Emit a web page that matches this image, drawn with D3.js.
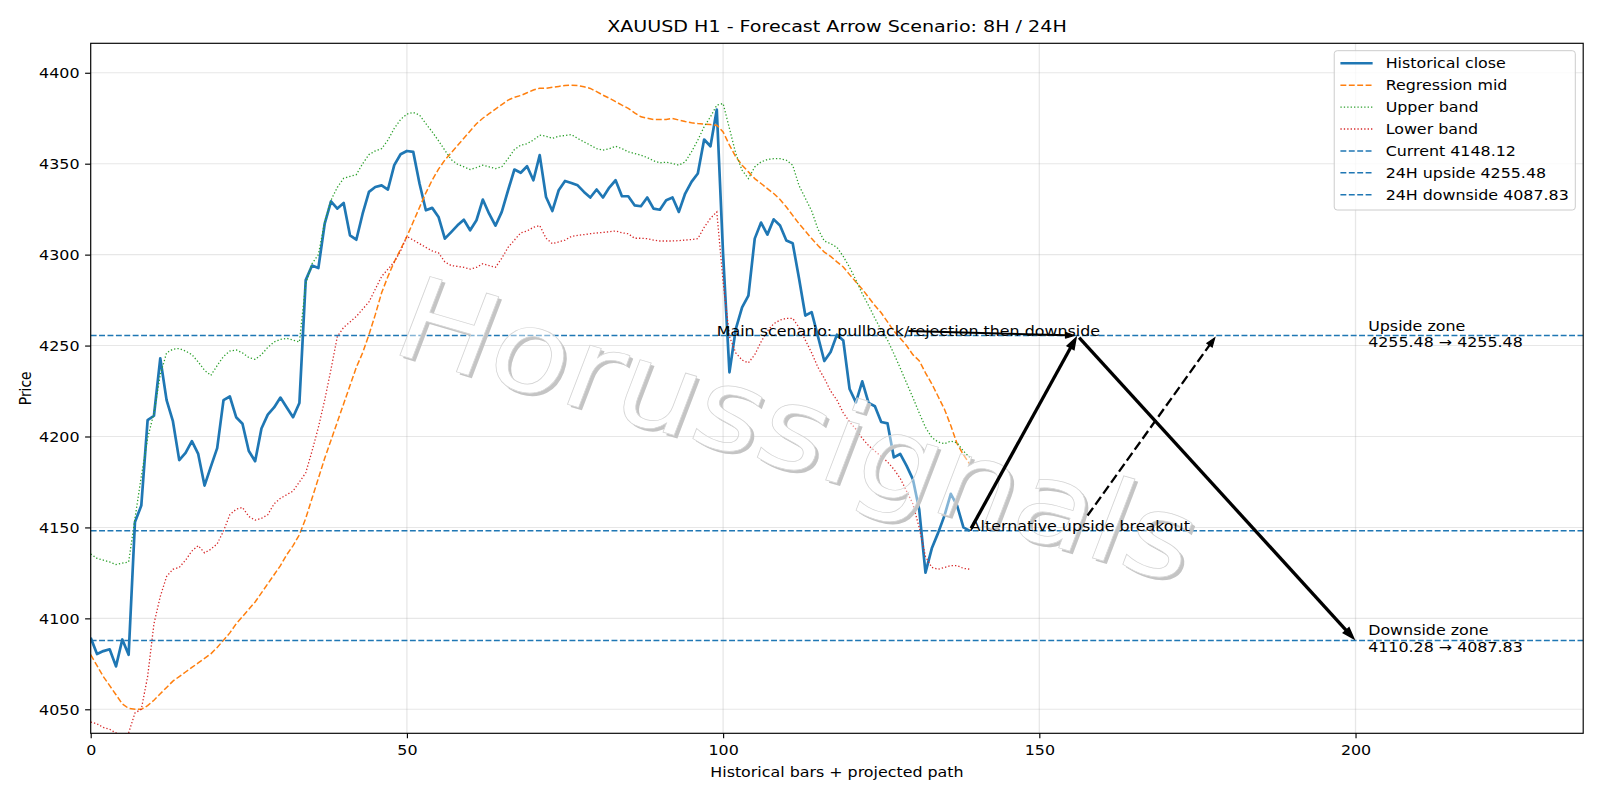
<!DOCTYPE html>
<html>
<head>
<meta charset="utf-8">
<script src="https://cdn.jsdelivr.net/npm/d3@7"></script>
<style>
  body { margin: 0; background: #fff; }
  svg { font-family: "DejaVu Sans", sans-serif; }
</style>
</head>
<body>
<div id="chart"></div>
<script>
// values (one value per hourly bar, 0..139)
const closeSeries = [
  4089.3, 4080.4, 4082, 4083, 4073.6, 4088.4, 4080, 4153, 4162, 4209,
  4211.4, 4243, 4220, 4208.4, 4187, 4191, 4197.4, 4190.4, 4173, 4183.4,
  4193.6, 4220, 4222, 4210.6, 4207, 4192, 4186.4, 4204.4, 4212, 4216,
  4221.4, 4216, 4210.6, 4218.4, 4286, 4294, 4292.6, 4317, 4329.3, 4325.3,
  4328.4, 4310.6, 4308.2, 4322.5, 4334.5, 4337.2, 4338.1, 4335.8, 4349.2, 4355.2,
  4357, 4356.5, 4339, 4324.4, 4325.7, 4320.7, 4308.8, 4312.4, 4316.1, 4319.2,
  4313.4, 4318.9, 4330.3, 4322.5, 4315.9, 4323.5, 4335.4, 4346.8, 4345, 4348.6,
  4340.9, 4354.7, 4331.7, 4324, 4335.4, 4340.5, 4339.4, 4338.1, 4334.5, 4331.4,
  4335.8, 4331.4, 4336.9, 4340.9, 4332.1, 4332.1, 4327.1, 4326.6, 4331.4, 4325.3,
  4324.7, 4329.9, 4331.4, 4323.5, 4333.6, 4340, 4344.6, 4363.3, 4359.6, 4379.8,
  4300, 4235.3, 4259, 4271, 4277.5, 4308.8, 4317.6, 4311, 4319.4, 4316,
  4307.8, 4306.3, 4287, 4266.5, 4268.4, 4255, 4241.5, 4246.5, 4256, 4252.8,
  4226.1, 4218.8, 4230.3, 4218.5, 4216.6, 4208, 4207.2, 4188.5, 4190.4, 4184,
  4176.6, 4160, 4125.1, 4138.5, 4147, 4156.5, 4168.5, 4162, 4150, 4148.12
];
const regressionMid = [
  4080, 4074, 4068, 4063, 4058, 4053, 4050.5, 4050, 4050, 4052,
  4055, 4058.5, 4062, 4065.5, 4068, 4070.5, 4073, 4075.5, 4078, 4080.5,
  4084, 4088, 4092, 4097, 4101, 4105, 4109, 4114, 4119, 4124,
  4129, 4135, 4140, 4146, 4155, 4166, 4177, 4188, 4198, 4208,
  4218, 4228, 4238, 4246, 4256, 4267, 4279, 4288, 4296, 4303,
  4310, 4318, 4326, 4334, 4341, 4347, 4352, 4356, 4360, 4364,
  4368, 4372, 4375, 4377.5, 4380, 4382.5, 4385, 4386.5, 4387.5, 4389,
  4390.5, 4391.5, 4391.5, 4392, 4392.5, 4393, 4393.2, 4393, 4392.3, 4391.4,
  4389.6, 4387.7, 4386, 4384.1, 4382.2, 4380.4, 4378, 4375.8, 4375, 4374.3,
  4374.3, 4374.3, 4374.9, 4374, 4373.2, 4372.5, 4372.1, 4371.8, 4371.5, 4371.2,
  4367.5, 4360.2, 4353.8, 4349.2, 4345.5, 4341.8, 4339.1, 4336.3, 4333.6, 4330.3,
  4326.2, 4321.6, 4317, 4313, 4308.8, 4305, 4301.4, 4299, 4296, 4293.2,
  4289, 4285, 4281, 4276.5, 4272, 4268, 4263, 4258, 4254, 4250,
  4245, 4241.7, 4235, 4229, 4222, 4215, 4206, 4196, 4190, 4184.8
];
const upperBand = [
  4135.4, 4133, 4132, 4131, 4129.6, 4130.4, 4131, 4155, 4178, 4199,
  4213, 4234, 4246, 4248, 4248.4, 4247, 4245, 4241, 4236.4, 4233.6,
  4239, 4244, 4247, 4247.6, 4246, 4243.4, 4242.4, 4245, 4249, 4252,
  4253.4, 4254, 4253, 4252, 4284, 4295, 4300, 4318, 4330, 4337,
  4342, 4343, 4344, 4350, 4355, 4357, 4358.3, 4363, 4369.4, 4374.3,
  4377.3, 4378.2, 4376.7, 4372, 4367.5, 4362.6, 4357.4, 4352.3, 4349.7, 4348.3,
  4346.8, 4347.9, 4349.2, 4348.3, 4347.3, 4348.3, 4352.8, 4357.8, 4360.2, 4361,
  4363, 4365.7, 4365.1, 4363.9, 4365.1, 4365.5, 4366, 4363.9, 4362, 4360.2,
  4358.3, 4357.4, 4358.2, 4359.6, 4358.3, 4356.5, 4355.6, 4354.7, 4353.4, 4351.6,
  4350.5, 4350.8, 4350.1, 4349.2, 4351, 4356.5, 4363, 4370.3, 4375.8, 4382.2,
  4383.1, 4369.4, 4355.6, 4346.4, 4341.8, 4348.2, 4351, 4352.3, 4352.8, 4352.8,
  4351.9, 4349.2, 4338, 4331, 4324, 4314, 4307.5, 4306, 4304, 4299,
  4293, 4286, 4278.5, 4272, 4265, 4258.5, 4253, 4245.5, 4237.7, 4229.5,
  4221.5, 4213, 4205, 4199.5, 4197, 4196, 4197.5, 4196.5, 4192, 4188.5
];
const lowerBand = [
  4043, 4042, 4040, 4039, 4037, 4036, 4037, 4048, 4050, 4068,
  4097, 4112, 4123, 4127, 4128, 4132, 4137, 4140, 4136, 4138,
  4141, 4148, 4157, 4160, 4161, 4156, 4154, 4155, 4157, 4163,
  4166, 4168, 4170, 4175, 4180, 4192, 4205, 4220, 4237, 4255,
  4260, 4263, 4266, 4270, 4274, 4281, 4288, 4292, 4296, 4302,
  4310, 4308, 4306, 4304, 4302, 4301, 4296, 4294, 4293.5, 4293,
  4292, 4293, 4295, 4294, 4293, 4298, 4304, 4308, 4312, 4313,
  4315, 4316, 4309, 4306, 4307, 4308, 4310, 4310.6, 4311, 4311.5,
  4311.9, 4312.2, 4312.6, 4313, 4312, 4311.5, 4309, 4309, 4308.8, 4308,
  4307.5, 4307.5, 4307.5, 4307.7, 4308, 4308.3, 4308.8, 4315, 4320, 4323.5,
  4285, 4255, 4246, 4242, 4240.5, 4245, 4252, 4258, 4262, 4264,
  4265, 4265, 4260, 4253, 4246, 4238, 4232, 4225, 4220, 4213,
  4208, 4204, 4199, 4195, 4192, 4189, 4186, 4182, 4177, 4170,
  4163, 4150, 4134, 4128, 4127, 4128, 4129, 4129, 4127.5, 4127
];

const levelNames = ['Current', '24H upside', '24H downside'];
const levelValues = [4148.12, 4255.48, 4087.83];

// forecast arrows: [bar, price]
const mainPath = [[139, 4148.12], [156, 4255.48], [200, 4087.83]];
const altTarget = [178, 4255.48];
const mainLabelAt = [99, 4255.48];

const zoneNames = ['Upside zone', 'Downside zone'];
const zoneRanges = ['4255.48 \u2192 4255.48', '4110.28 \u2192 4087.83'];
const zoneAt = [[202, 4255.48], [202, 4087.83]];

const xTicks = [0, 50, 100, 150, 200];
const yTicks = [4050, 4100, 4150, 4200, 4250, 4300, 4350, 4400];
const xDomain = [0, 236];
const yDomain = [4036.8, 4416.2];

const W = 1600, H = 800;
const margin = { top: 43.3, right: 16.8, bottom: 66.7, left: 90.7 };
const fs = 13.9;     // 10pt
const SX = 1.143;    // picture is stretched sideways

const svg = d3.select('#chart').append('svg')
    .attr('width', W)
    .attr('height', H);
const defs = svg.append('defs');

const x = d3.scaleLinear().domain(xDomain).range([margin.left, W - margin.right]);
const y = d3.scaleLinear().domain(yDomain).range([H - margin.bottom, margin.top]);

function label(g, px, py, str, size, anchor) {
    return g.append('text')
        .attr('transform', `translate(${px},${py}) scale(${SX},1)`)
        .attr('text-anchor', anchor || 'start')
        .attr('font-size', size || fs)
        .attr('fill', '#000')
        .text(str);
}

defs.append('clipPath').attr('id', 'plot')
    .append('rect')
    .attr('x', x(xDomain[0]))
    .attr('y', y(yDomain[1]))
    .attr('width', x(xDomain[1]) - x(xDomain[0]))
    .attr('height', y(yDomain[0]) - y(yDomain[1]));

// grid
const grid = svg.append('g').attr('stroke', '#b0b0b0').attr('stroke-opacity', 0.3);
grid.selectAll('.gx').data(xTicks).enter().append('line')
    .attr('stroke-width', 1.27)
    .attr('x1', d => x(d)).attr('x2', d => x(d))
    .attr('y1', y.range()[0]).attr('y2', y.range()[1]);
grid.selectAll('.gy').data(yTicks).enter().append('line')
    .attr('stroke-width', 1.1)
    .attr('y1', d => y(d)).attr('y2', d => y(d))
    .attr('x1', x.range()[0]).attr('x2', x.range()[1]);

const plot = svg.append('g').attr('clip-path', 'url(#plot)');
const line = d3.line().x((d, i) => x(i)).y(d => y(d));

const bandStyles = [
    { data: regressionMid, color: '#ff7f0e', width: 1.5, dash: '5.9,2.5' },
    { data: upperBand, color: '#2ca02c', width: 1.3, dash: '1.3,2.1' },
    { data: lowerBand, color: '#d62728', width: 1.3, dash: '1.3,2.1' },
];
plot.append('path').datum(closeSeries)
    .attr('d', line).attr('fill', 'none')
    .attr('stroke', '#1f77b4').attr('stroke-width', 2.7)
    .attr('stroke-linejoin', 'round');
bandStyles.forEach((s) => {
    plot.append('path').datum(s.data)
        .attr('d', line).attr('fill', 'none')
        .attr('stroke', s.color).attr('stroke-width', s.width)
        .attr('stroke-dasharray', s.dash);
});

// watermark: white glyphs over a soft offset shadow
const wmX = 798, wmY = 430, wmAngle = 18.5, wmSize = 114;
const wmTf = (dx, dy) => `translate(${wmX + dx},${wmY + dy}) scale(${SX},1) rotate(${wmAngle})`;
const wmMask = defs.append('mask').attr('id', 'wmMask')
    .attr('maskUnits', 'userSpaceOnUse').attr('x', 0).attr('y', 0).attr('width', W).attr('height', H);
wmMask.append('rect').attr('width', W).attr('height', H).attr('fill', '#fff');
wmMask.append('text')
    .attr('transform', wmTf(0, 0))
    .attr('text-anchor', 'middle').attr('dominant-baseline', 'central')
    .attr('font-size', wmSize).attr('fill', '#000')
    .text('Horussignals');
svg.append('g').attr('mask', 'url(#wmMask)')
    .append('text')
    .attr('transform', wmTf(3.2, 2.8))
    .attr('text-anchor', 'middle').attr('dominant-baseline', 'central')
    .attr('font-size', wmSize).attr('fill', '#c4c4c4')
    .text('Horussignals');
svg.append('text')
    .attr('transform', wmTf(0, 0))
    .attr('text-anchor', 'middle').attr('dominant-baseline', 'central')
    .attr('font-size', wmSize).attr('fill', '#ffffff').attr('fill-opacity', 0.45)
    .attr('stroke', '#d4d4d4').attr('stroke-width', 0.7)
    .text('Horussignals');

// horizontal levels
plot.selectAll('.level').data(levelValues).enter().append('line')
    .attr('x1', x.range()[0]).attr('x2', x.range()[1])
    .attr('y1', d => y(d)).attr('y2', d => y(d))
    .attr('stroke', '#1f77b4').attr('stroke-width', 1.5)
    .attr('stroke-dasharray', '5.9,2.5');

// arrows
function arrow(g, p0, p1, opt) {
    const dx = p1[0] - p0[0];
    const dy = p1[1] - p0[1];
    const L = Math.hypot(dx, dy);
    const ux = dx / L;
    const uy = dy / L;
    const s = [p0[0] + ux * opt.shrinkA, p0[1] + uy * opt.shrinkA];
    const tip = [p1[0] - ux * opt.shrinkB, p1[1] - uy * opt.shrinkB];
    const base = [tip[0] - ux * opt.headLen, tip[1] - uy * opt.headLen];
    g.append('line')
        .attr('x1', s[0]).attr('y1', s[1])
        .attr('x2', base[0] + ux).attr('y2', base[1] + uy)
        .attr('stroke', '#000').attr('stroke-width', opt.width)
        .attr('stroke-dasharray', opt.dash || null);
    const hw = opt.headW / 2;
    g.append('path')
        .attr('d', `M${tip[0]},${tip[1]}L${base[0] - uy * hw},${base[1] + ux * hw}L${base[0] + uy * hw},${base[1] - ux * hw}Z`)
        .attr('fill', '#000').attr('stroke', '#000').attr('stroke-width', opt.width * 0.5);
}

const ann = svg.append('g');
const P = mainPath.map(d => [x(d[0]), y(d[1])]);

// main scenario label and its pointer
const mainText = label(ann, x(mainLabelAt[0]), y(mainLabelAt[1]), 'Main scenario: pullback/rejection then downside');
const mb = mainText.node().getBBox();
const mainCenter = [x(mainLabelAt[0]) + (mb.x + mb.width / 2) * SX, y(mainLabelAt[1]) + mb.y + mb.height / 2];
arrow(ann, mainCenter, P[1], { width: 2, headLen: 9, headW: 6, shrinkA: 0, shrinkB: 2.8 });

arrow(ann, P[0], P[1], { width: 3.3, headLen: 11, headW: 7.5, shrinkA: 2.8, shrinkB: 2.8 });
arrow(ann, P[1], P[2], { width: 3.3, headLen: 11, headW: 7.5, shrinkA: 2.8, shrinkB: 2.8 });

// alternative label with dashed pointer leaving the label box
const altText = label(ann, P[0][0], P[0][1], 'Alternative upside breakout');
const ab = altText.node().getBBox();
const abTop = P[0][1] + ab.y;
const ac = [P[0][0] + (ab.x + ab.width / 2) * SX, P[0][1] + ab.y + ab.height / 2];
const at = [x(altTarget[0]), y(altTarget[1])];
const tClip = (ac[1] - abTop) / (ac[1] - at[1]);
const altStart = [ac[0] + (at[0] - ac[0]) * tClip, abTop];
arrow(ann, altStart, at, { width: 2.3, headLen: 9, headW: 6.5, shrinkA: 2.8, shrinkB: 2.8, dash: '9.5,4' });

// zone labels
zoneNames.forEach((name, i) => {
    const zx = x(zoneAt[i][0]);
    const zy = y(zoneAt[i][1]);
    label(ann, zx, zy - 5, name);
    label(ann, zx, zy + 11.6, zoneRanges[i]);
});

// axes frame
svg.append('rect')
    .attr('x', x.range()[0]).attr('y', y.range()[1])
    .attr('width', x.range()[1] - x.range()[0])
    .attr('height', y.range()[0] - y.range()[1])
    .attr('fill', 'none').attr('stroke', '#000').attr('stroke-width', 1.15);

const xAxis = d3.axisBottom(x).tickValues(xTicks).tickSize(4.9).tickPadding(4.9).tickFormat(d3.format('d'));
const yAxis = d3.axisLeft(y).tickValues(yTicks).tickSize(5.6).tickPadding(5.6).tickFormat(d3.format('d'));

const gx = svg.append('g').attr('transform', `translate(0,${y.range()[0]})`).call(xAxis);
const gy = svg.append('g').attr('transform', `translate(${x.range()[0]},0)`).call(yAxis);
[gx, gy].forEach((g) => {
    g.select('.domain').remove();
    g.selectAll('.tick line').attr('stroke', '#000').attr('stroke-width', 1.15);
    g.selectAll('.tick text').attr('font-size', fs).attr('fill', '#000')
        .attr('font-family', '"DejaVu Sans", sans-serif');
});
gx.selectAll('.tick text').attr('dy', null).attr('y', null)
    .attr('transform', `translate(0,21.7) scale(${SX},1)`);
gy.selectAll('.tick text').attr('x', null).attr('dy', '0.36em')
    .attr('transform', `translate(-11.2,0) scale(${SX},1)`);

// titles
const midX = (x.range()[0] + x.range()[1]) / 2;
label(svg, midX, 31.5, 'XAUUSD H1 - Forecast Arrow Scenario: 8H / 24H', 16.7, 'middle');
label(svg, midX, 776.5, 'Historical bars + projected path', fs, 'middle');
svg.append('text')
    .attr('transform', `translate(31,${(y.range()[0] + y.range()[1]) / 2}) scale(${SX},1) rotate(-90)`)
    .attr('text-anchor', 'middle').attr('font-size', fs)
    .text('Price');

// legend
const legendItems = [
    { label: 'Historical close', color: '#1f77b4', width: 2.6, dash: null },
    { label: 'Regression mid', color: '#ff7f0e', width: 1.5, dash: '5.9,2.5' },
    { label: 'Upper band', color: '#2ca02c', width: 1.3, dash: '1.3,2.1' },
    { label: 'Lower band', color: '#d62728', width: 1.3, dash: '1.3,2.1' },
].concat(levelNames.map((n, i) => ({
    label: `${n} ${levelValues[i].toFixed(2)}`, color: '#1f77b4', width: 1.5, dash: '5.9,2.5',
})));

const lgRight = x.range()[1] - 7.9;
const lgTop = y.range()[1] + 7.4;
const lg = svg.append('g');
const lgBox = lg.append('rect')
    .attr('y', lgTop).attr('height', 159.3)
    .attr('rx', 3).attr('ry', 3)
    .attr('fill', '#fff').attr('fill-opacity', 0.8)
    .attr('stroke', '#cccccc').attr('stroke-width', 1);
const rows = lg.selectAll('.row').data(legendItems).enter().append('g')
    .attr('transform', (d, i) => `translate(0,${lgTop + 12.6 + i * 21.9})`);
let maxW = 0;
const rowText = rows.append('text')
    .attr('font-size', fs)
    .text(d => d.label)
    .each(function () { maxW = Math.max(maxW, this.getComputedTextLength() * SX); });
const lgLeft = lgRight - (maxW + 51.4 + 6.4);
lgBox.attr('x', lgLeft).attr('width', lgRight - lgLeft);
rowText.attr('transform', `translate(${lgLeft + 51.4},5) scale(${SX},1)`);
rows.append('line')
    .attr('x1', lgLeft + 6.2).attr('x2', lgLeft + 38.4)
    .attr('stroke', d => d.color).attr('stroke-width', d => d.width)
    .attr('stroke-dasharray', d => d.dash);
</script>
</body>
</html>
